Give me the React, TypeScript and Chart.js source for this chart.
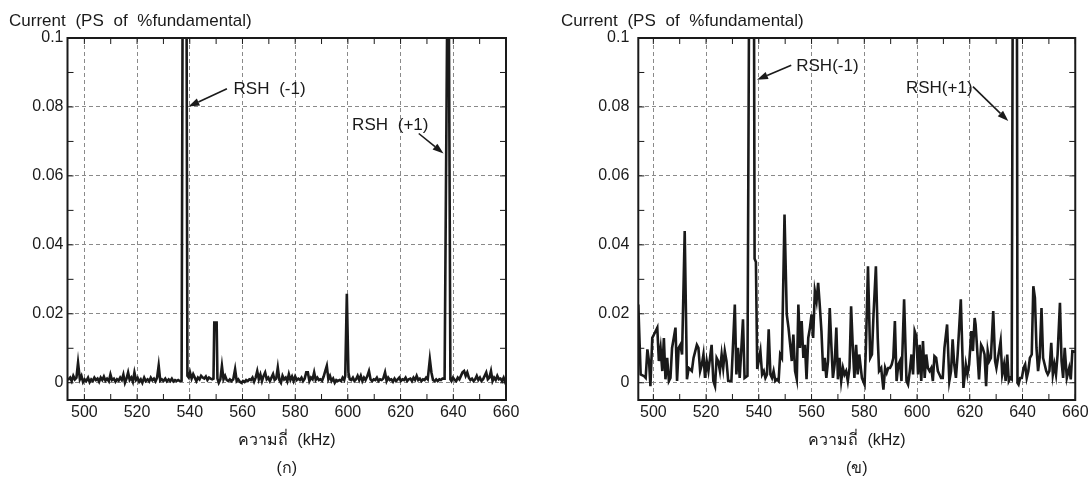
import React, { useEffect, useRef } from "react";
import { Chart, registerables } from "chart.js";
Chart.register(...registerables);

// ---------- data (kHz, current in PS of % fundamental) ----------
const leftSpectrum: [number, number][] = [
  [493.6, 0.001], [494.0, 0.001], [494.6, 0.0015], [495.2, 0.0005], [495.8, 0.002], [496.4, 0.001], [497.0, 0.0015],
  [497.6, 0.0058], [498.3, 0.001], [498.9, 0.002], [499.5, 0.0002], [500.1, 0.001], [500.7, 0.0005], [501.4, 0.0015],
  [502.0, 0.0002], [502.6, 0.001], [503.2, 0.0005], [503.8, 0.0015], [504.4, 0.0008], [505.0, 0.0012], [505.6, 0.0003],
  [506.2, 0.0015], [506.8, 0.0008], [507.4, 0.0018], [508.0, 0.0006], [508.6, 0.0012], [509.3, 0.0004], [509.9, 0.0024],
  [510.5, 0.0008], [511.2, 0.0012], [511.8, 0.0003], [512.4, 0.001], [513.0, 0.0006], [513.6, 0.0015], [514.2, 0.0008],
  [514.8, 0.0024], [515.4, 0.0], [516.0, 0.0012], [516.6, 0.003], [517.2, 0.0008], [517.8, 0.0015], [518.4, 0.0003],
  [519.0, 0.003], [519.6, 0.0008], [520.2, 0.0014], [520.8, 0.0003], [521.4, 0.001], [522.0, 0.0], [522.7, 0.0015],
  [523.3, 0.0005], [524.0, 0.001], [524.6, 0.0004], [525.2, 0.0015], [525.8, 0.0007], [526.4, 0.0012], [527.0, 0.0004],
  [527.6, 0.0015], [528.2, 0.005], [528.8, 0.0006], [529.4, 0.001], [530.0, 0.0005], [530.7, 0.0012], [531.3, 0.0004],
  [532.0, 0.001], [532.6, 0.0005], [533.2, 0.0012], [533.8, 0.0004], [534.4, 0.0008], [535.0, 0.0005], [535.6, 0.0008],
  [536.2, 0.0005], [536.9, 0.0006], [537.6, 0.2], [538.5, 0.2], [539.1, 0.002], [539.6, 0.0015], [540.1, 0.003],
  [540.7, 0.0012], [541.3, 0.0025], [541.9, 0.0015], [542.5, 0.0005], [543.1, 0.0015], [543.7, 0.001], [544.3, 0.002],
  [544.9, 0.0015], [545.5, 0.0012], [546.1, 0.0018], [546.7, 0.0008], [547.3, 0.0015], [547.9, 0.0012], [548.5, 0.001],
  [549.0, 0.0012], [549.3, 0.0175], [550.2, 0.0175], [550.5, 0.0012], [551.0, 0.0], [551.6, 0.001], [552.2, 0.0049],
  [552.8, 0.001], [553.4, 0.002], [554.0, 0.0008], [554.6, 0.0005], [555.2, 0.001], [555.8, 0.0005], [556.5, 0.001],
  [557.2, 0.0039], [557.8, 0.0005], [558.4, 0.001], [559.0, 0.0003], [559.6, 0.0], [560.2, 0.0005], [560.8, 0.0002],
  [561.4, 0.0008], [562.0, 0.0005], [562.6, 0.001], [563.2, 0.0008], [563.8, 0.0015], [564.4, 0.0003], [565.0, 0.0015],
  [565.6, 0.0034], [566.2, 0.001], [566.8, 0.0024], [567.4, 0.0005], [568.0, 0.002], [568.6, 0.003], [569.2, 0.001],
  [569.8, 0.0015], [570.4, 0.0005], [571.0, 0.0015], [571.6, 0.0025], [572.2, 0.0008], [572.8, 0.0012], [573.4, 0.0044],
  [574.0, 0.0008], [574.6, 0.0], [575.2, 0.002], [575.8, 0.001], [576.4, 0.0015], [577.0, 0.0004], [577.6, 0.0025],
  [578.2, 0.0008], [578.8, 0.0018], [579.4, 0.0005], [580.0, 0.0018], [580.6, 0.0008], [581.2, 0.0012], [581.8, 0.0008],
  [582.4, 0.0015], [583.0, 0.0005], [583.6, 0.0012], [584.2, 0.003], [584.8, 0.003], [585.4, 0.0005], [586.0, 0.0015],
  [586.6, 0.001], [587.2, 0.003], [587.8, 0.0008], [588.4, 0.0015], [589.0, 0.0008], [589.6, 0.001], [590.2, 0.0006],
  [590.8, 0.0018], [591.4, 0.0034], [592.0, 0.0049], [592.6, 0.001], [593.2, 0.002], [593.8, 0.0005], [594.4, 0.0012],
  [595.0, 0.0], [595.6, 0.0008], [596.2, 0.0005], [596.8, 0.0008], [597.4, 0.0005], [598.0, 0.0015], [598.6, 0.0008],
  [599.0, 0.002], [599.6, 0.0258], [600.2, 0.003], [600.7, 0.001], [601.3, 0.0008], [601.9, 0.0015], [602.5, 0.0005],
  [603.1, 0.001], [603.7, 0.002], [604.3, 0.0008], [604.9, 0.002], [605.5, 0.0005], [606.1, 0.0015], [606.7, 0.0008],
  [607.3, 0.0018], [608.0, 0.0034], [608.6, 0.001], [609.2, 0.0005], [609.8, 0.001], [610.4, 0.0008], [611.0, 0.0015],
  [611.6, 0.0005], [612.2, 0.001], [612.8, 0.0008], [613.4, 0.0012], [614.1, 0.003], [614.7, 0.0005], [615.3, 0.0015],
  [615.9, 0.0008], [616.5, 0.001], [617.1, 0.0003], [617.7, 0.0012], [618.3, 0.0005], [618.9, 0.001], [619.5, 0.0015],
  [620.1, 0.0005], [620.7, 0.001], [621.3, 0.0008], [621.9, 0.0015], [622.5, 0.0005], [623.1, 0.001], [623.7, 0.0012],
  [624.3, 0.0005], [624.9, 0.0015], [625.5, 0.0008], [626.1, 0.002], [626.7, 0.0008], [627.3, 0.0012], [627.9, 0.0005],
  [628.5, 0.001], [629.1, 0.0008], [629.7, 0.0015], [630.3, 0.001], [631.1, 0.0068], [631.7, 0.003], [632.3, 0.0008],
  [632.9, 0.0005], [633.5, 0.001], [634.1, 0.0005], [634.7, 0.001], [635.3, 0.0008], [635.9, 0.0012], [636.7, 0.0012],
  [637.9, 0.13], [638.2, 0.13], [638.9, 0.001], [639.3, 0.0005], [639.9, 0.0015], [640.5, 0.0008], [641.1, 0.0005],
  [641.7, 0.0015], [642.3, 0.001], [642.9, 0.002], [643.5, 0.003], [644.1, 0.0034], [644.7, 0.002], [645.3, 0.003],
  [645.9, 0.0015], [646.5, 0.0008], [647.1, 0.0012], [647.7, 0.0005], [648.3, 0.001], [648.9, 0.002], [649.5, 0.0008],
  [650.1, 0.0015], [650.7, 0.0005], [651.3, 0.001], [651.9, 0.002], [652.5, 0.003], [653.1, 0.001], [653.7, 0.0015],
  [654.3, 0.0034], [654.9, 0.0005], [655.5, 0.0015], [656.1, 0.0008], [656.7, 0.002], [657.3, 0.001], [657.9, 0.0012],
  [658.5, 0.0005], [659.1, 0.0015], [659.7, 0.0002], [660.0, 0.0012],
];

const rightSpectrum: [number, number][] = [
  [494.3, 0.0227], [495.2, 0.0024], [496.5, 0.0019], [497.1, 0.0014], [497.75, 0.0097], [498.4, 0.006], [498.9, -0.001],
  [499.6, 0.013], [500.25, 0.014], [501.5, 0.016], [502.1, 0.0063], [502.75, 0.0101], [503.4, 0.0034], [504.0, 0.013],
  [504.6, 0.001], [505.25, 0.0072], [505.9, 0.0005], [506.5, 0.0014], [507.1, 0.0101], [507.75, 0.013], [508.4, 0.016],
  [509.0, 0.0005], [509.6, 0.0101], [510.25, 0.011], [510.9, 0.0082], [511.9, 0.044], [512.75, 0.001], [513.4, 0.0043],
  [514.6, 0.0034], [515.25, 0.0072], [516.5, 0.011], [517.1, 0.0101], [517.75, 0.0034], [518.4, 0.0053], [519.0, 0.0082],
  [519.6, 0.0014], [520.25, 0.0063], [520.9, 0.0034], [521.5, 0.0072], [522.1, 0.011], [522.75, 0.0005], [523.4, -0.001],
  [524.0, 0.0072], [524.6, 0.0063], [525.25, 0.0034], [525.9, 0.0082], [526.5, 0.0043], [527.1, 0.0092], [527.75, 0.0063],
  [528.4, 0.0005], [529.6, 0.0005], [530.9, 0.0227], [531.5, 0.0024], [532.1, 0.0101], [532.75, 0.0014], [533.4, 0.0101],
  [534.0, 0.0184], [534.6, 0.0014], [535.7, 0.002], [536.8, 0.2], [537.9, 0.2], [538.4, 0.036], [538.9, 0.035],
  [539.4, 0.004], [540.6, 0.0092], [541.25, 0.0024], [541.9, 0.0034], [542.5, 0.0014], [543.1, 0.0024], [543.75, 0.0155],
  [544.4, 0.0024], [545.0, 0.0014], [545.6, 0.0034], [546.25, 0.0005], [546.9, 0.001], [547.5, 0.0005], [548.1, 0.0082],
  [548.75, 0.0072], [549.75, 0.0488], [550.6, 0.0198], [551.25, 0.016], [551.9, 0.011], [552.5, 0.0063], [553.1, 0.014],
  [553.75, 0.0034], [554.4, 0.001], [555.0, 0.0227], [555.6, 0.0101], [556.25, 0.0179], [556.9, 0.0072], [557.5, 0.011],
  [558.1, 0.001], [558.75, 0.013], [559.4, 0.016], [560.0, 0.0198], [560.6, 0.013], [561.25, 0.0266], [561.9, 0.0237],
  [562.5, 0.029], [563.1, 0.0227], [563.75, 0.015], [564.4, 0.0034], [565.0, 0.0072], [565.6, 0.0014], [566.25, 0.0063],
  [566.9, 0.0217], [567.5, 0.011], [568.1, 0.0014], [568.75, 0.0053], [569.4, 0.016], [570.0, 0.001], [570.6, 0.0072],
  [571.25, 0.0005], [571.9, 0.0043], [572.5, 0.0024], [573.1, 0.0034], [573.75, 0.0005], [574.4, 0.0043], [575.0, 0.0222],
  [575.6, 0.011], [576.25, 0.0014], [576.9, 0.011], [577.5, 0.0024], [578.1, 0.0082], [579.1, 0.0014], [580.1, -0.0005],
  [580.6, 0.0101], [581.4, 0.0338], [582.25, 0.0072], [582.9, 0.0082], [583.5, 0.0198], [584.4, 0.0338], [585.1, 0.013],
  [585.6, 0.0034], [586.4, 0.0043], [587.25, -0.002], [587.9, 0.0043], [588.5, 0.0029], [589.1, 0.0043], [589.75, 0.0043],
  [590.4, 0.0053], [591.0, 0.0072], [591.6, 0.0179], [592.25, 0.0005], [592.9, 0.0053], [593.5, 0.0063], [594.1, 0.0005],
  [595.1, 0.0242], [596.0, 0.0005], [596.6, -0.0005], [597.25, 0.0034], [597.9, 0.0082], [598.5, 0.0024], [599.1, 0.015],
  [599.75, 0.0135], [600.4, 0.0024], [601.0, 0.011], [601.6, 0.0005], [602.25, 0.0121], [602.9, 0.0014], [603.5, 0.0082],
  [604.1, 0.0043], [604.75, 0.0034], [605.4, 0.0043], [606.0, 0.0005], [606.6, 0.0077], [607.25, 0.0072], [607.9, 0.0034],
  [608.5, 0.0024], [609.1, 0.0014], [609.75, 0.0014], [610.4, 0.0101], [611.4, 0.0169], [612.25, 0.0005], [612.9, 0.0034],
  [613.5, 0.0126], [614.1, 0.0053], [614.75, 0.0014], [615.4, 0.0082], [616.6, 0.0242], [617.6, -0.0015], [618.5, 0.0053],
  [619.1, 0.0024], [619.75, 0.0053], [620.6, 0.015], [621.2, 0.0092], [621.85, 0.0188], [622.2, 0.0169], [622.7, 0.011],
  [623.5, 0.001], [624.3, 0.011], [624.9, 0.0101], [625.6, 0.0082], [626.2, -0.001], [626.8, 0.0092], [627.4, 0.0063],
  [628.0, 0.0072], [628.9, 0.0208], [629.6, 0.0063], [630.1, 0.0043], [630.7, 0.0072], [631.7, 0.0121], [632.3, 0.0024],
  [633.0, 0.0053], [633.6, 0.0005], [634.2, 0.0082], [634.8, 0.0005], [635.4, 0.0014], [635.9, 0.001], [636.6, 0.2],
  [637.7, 0.2], [638.1, 0.0], [638.5, -0.0005], [639.1, 0.0014], [639.75, 0.0014], [640.4, 0.0043], [641.0, 0.0053],
  [641.6, 0.0014], [642.2, 0.0034], [642.8, 0.0072], [643.5, 0.0082], [644.1, 0.028], [644.7, 0.0246], [645.3, 0.0101],
  [645.9, 0.0034], [646.5, 0.0072], [647.2, 0.0217], [647.8, 0.0072], [648.4, 0.0053], [649.0, 0.0034], [649.6, 0.0024],
  [650.2, 0.0034], [650.9, 0.0116], [651.5, 0.0024], [652.1, 0.0053], [652.7, 0.0024], [653.3, 0.0082], [654.2, 0.0232],
  [654.8, 0.0063], [655.4, 0.0014], [656.0, 0.0101], [656.8, 0.0014], [657.7, 0.0043], [658.3, 0.001], [658.9, 0.0092],
  [660.0, 0.009],
];

const yAxisTitle = "Current (PS of %fundamental)";
const xAxisTitle = "ความถี่ (kHz)";
const panelCaptions = ["(ก)", "(ข)"];

type Note = { label: string; text: [number, number]; from: [number, number]; to: [number, number] };

const leftNotes: Note[] = [
  { label: "RSH (-1)", text: [556.6, 0.085], from: [554.1, 0.0853], to: [539.5, 0.0801] },
  { label: "RSH (+1)", text: [601.6, 0.0747], from: [626.9, 0.0723], to: [636.3, 0.0665] },
];
const rightNotes: Note[] = [
  { label: "RSH(-1)", text: [554.2, 0.0917], from: [552.3, 0.0921], to: [539.3, 0.0879] },
  { label: "RSH(+1)", text: [595.8, 0.0853], from: [621.2, 0.0859], to: [634.6, 0.0759] },
];

const FONT = "'Liberation Sans', Arial, Helvetica, sans-serif";
const INK = "#1a1a1a";

const framePlugin = {
  id: "frameNotes",
  beforeDraw(chart: any) {
    try {
      chart.ctx.wordSpacing = "5px";
    } catch (e) {
      /* ignore */
    }
  },
  afterDatasetsDraw(chart: any, _args: any, opts: any) {
    const { ctx, chartArea: a, scales } = chart;
    const x = scales.x;
    const y = scales.y;
    ctx.save();
    // inward ticks
    ctx.strokeStyle = INK;
    ctx.lineWidth = 1;
    ctx.beginPath();
    for (let i = 0; i <= 10; i++) {
      const py = y.getPixelForValue(i / 100);
      ctx.moveTo(a.left, py);
      ctx.lineTo(a.left + 6, py);
      ctx.moveTo(a.right, py);
      ctx.lineTo(a.right - 6, py);
    }
    for (let k = 500; k <= 660; k += 10) {
      const px = x.getPixelForValue(k);
      ctx.moveTo(px, a.bottom);
      ctx.lineTo(px, a.bottom - 6);
      ctx.moveTo(px, a.top);
      ctx.lineTo(px, a.top + 6);
    }
    ctx.stroke();
    // frame
    ctx.lineWidth = 2;
    ctx.strokeRect(a.left, a.top, a.right - a.left, a.bottom - a.top);
    // notes
    const notes: Note[] = opts.notes || [];
    ctx.fillStyle = INK;
    ctx.font = `17px ${FONT}`;
    ctx.textAlign = "left";
    ctx.textBaseline = "middle";
    for (const n of notes) {
      ctx.fillText(n.label, x.getPixelForValue(n.text[0]), y.getPixelForValue(n.text[1]));
      const x1 = x.getPixelForValue(n.from[0]);
      const y1 = y.getPixelForValue(n.from[1]);
      const x2 = x.getPixelForValue(n.to[0]);
      const y2 = y.getPixelForValue(n.to[1]);
      const ang = Math.atan2(y2 - y1, x2 - x1);
      const hl = 11;
      const hw = 3.8;
      const bx = x2 - hl * Math.cos(ang);
      const by = y2 - hl * Math.sin(ang);
      ctx.lineWidth = 1.6;
      ctx.beginPath();
      ctx.moveTo(x1, y1);
      ctx.lineTo(bx, by);
      ctx.stroke();
      ctx.beginPath();
      ctx.moveTo(x2, y2);
      ctx.lineTo(bx + hw * Math.sin(ang), by - hw * Math.cos(ang));
      ctx.lineTo(bx - hw * Math.sin(ang), by + hw * Math.cos(ang));
      ctx.closePath();
      ctx.fill();
    }
    ctx.restore();
  },
};

type PanelProps = {
  points: [number, number][];
  xMin: number;
  padLeft: number;
  padRight: number;
  yWidth: number;
  yTickPad: number;
  caption: string;
  notes: Note[];
};

function Panel(p: PanelProps) {
  const ref = useRef<HTMLCanvasElement>(null);
  useEffect(() => {
    const gridOpts = { color: "#8a8a8a", lineWidth: 1, drawTicks: false };
    const borderOpts = { display: false, dash: [4, 3] };
    const chart = new Chart(ref.current as HTMLCanvasElement, {
      type: "line",
      data: {
        datasets: [
          {
            data: p.points.map(([x, y]) => ({ x, y })),
            borderColor: INK,
            borderWidth: 2.6,
            pointRadius: 0,
            tension: 0,
            fill: false,
          },
        ],
      },
      options: {
        responsive: false,
        animation: false,
        events: [],
        layout: { padding: { left: p.padLeft, right: p.padRight, top: 0, bottom: 0 } },
        plugins: {
          legend: { display: false },
          tooltip: { enabled: false },
          title: {
            display: true,
            text: yAxisTitle,
            align: "start",
            color: INK,
            font: { family: FONT, size: 17, weight: "normal" },
            padding: { top: 11, bottom: 6.6 },
          },
          frameNotes: { notes: p.notes },
        } as any,
        scales: {
          x: {
            type: "linear",
            min: p.xMin,
            max: 660,
            afterFit: (s: any) => {
              s.height = 83;
            },
            ticks: {
              stepSize: 20,
              includeBounds: false,
              padding: 3.4,
              color: INK,
              maxRotation: 0,
              autoSkip: false,
              font: { family: FONT, size: 16 },
            },
            grid: gridOpts,
            border: borderOpts,
            title: {
              display: true,
              text: [xAxisTitle, p.caption],
              color: INK,
              font: { family: FONT, size: 16, lineHeight: 1.75 },
              padding: { top: 0, bottom: 0 },
            },
          },
          y: {
            type: "linear",
            min: -0.005,
            max: 0.1,
            afterFit: (s: any) => {
              s.width = p.yWidth;
            },
            ticks: {
              stepSize: 0.02,
              includeBounds: false,
              padding: p.yTickPad,
              color: INK,
              font: { family: FONT, size: 16 },
              callback: (v: any) => String(Number(Number(v).toFixed(3))),
            },
            grid: gridOpts,
            border: borderOpts,
          },
        } as any,
      },
      plugins: [framePlugin as any],
    });
    return () => chart.destroy();
  }, []);
  return <canvas ref={ref} width={546} height={483} style={{ display: "block", width: 546, height: 483 }} />;
}

export default function App() {
  return (
    <div style={{ position: "fixed", left: 0, top: 0, width: 1092, height: 483, display: "flex", background: "#fff" }}>
      <Panel points={leftSpectrum} xMin={493.6} padLeft={9} padRight={40} yWidth={58.5} yTickPad={4} caption={panelCaptions[0]} notes={leftNotes} />
      <Panel points={rightSpectrum} xMin={494.3} padLeft={15} padRight={16.5} yWidth={77.3} yTickPad={9} caption={panelCaptions[1]} notes={rightNotes} />
    </div>
  );
}
